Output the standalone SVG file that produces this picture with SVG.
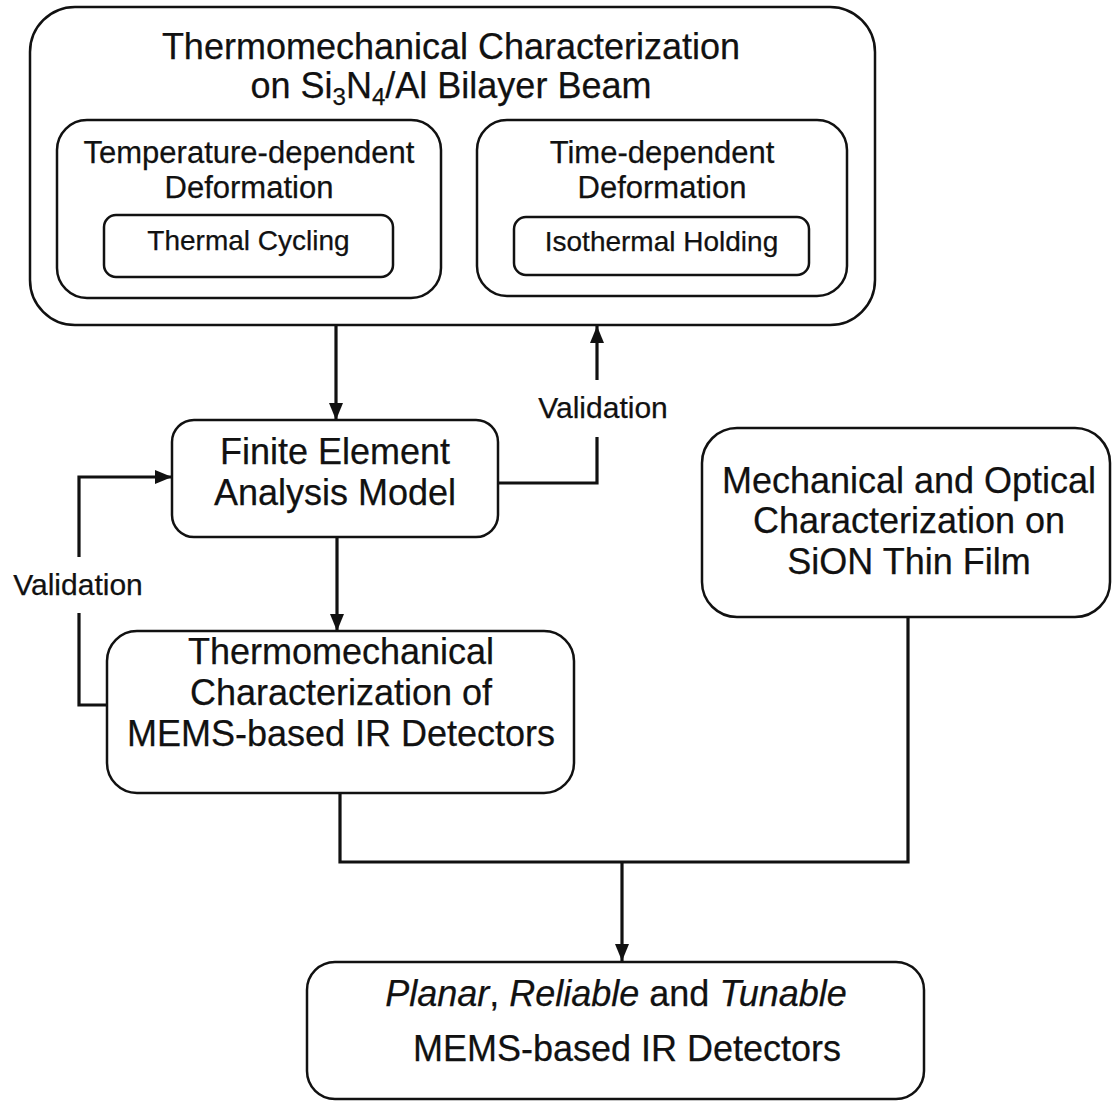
<svg xmlns="http://www.w3.org/2000/svg" width="1113" height="1101" viewBox="0 0 1113 1101">
  <style>
    .box { fill: none; stroke: #111; stroke-width: 2.5; }
    .wire { fill: none; stroke: #111; stroke-width: 3.2; }
    text { font-family: "Liberation Sans", Arial, sans-serif; fill: #111; text-anchor: middle; stroke: #111; stroke-width: 0.25; }
    .big { font-size: 36px; }
    .mid { font-size: 31px; }
    .small { font-size: 28px; }
    .label { font-size: 30px; }
    .it { font-style: italic; }
  </style>
  <defs>
    <marker id="arrow" viewBox="0 0 17 14" refX="17" refY="7" markerWidth="17" markerHeight="14" markerUnits="userSpaceOnUse" orient="auto">
      <path d="M0,0 L17,7 L0,14 Z" fill="#111"/>
    </marker>
  </defs>
  <rect width="1113" height="1101" fill="#fff"/>

  <!-- bilayer beam characterization (container) -->
  <g id="bilayer-beam">
    <rect class="box" x="30" y="7" width="845" height="318" rx="45" ry="45"/>
    <text class="big" x="451" y="59">Thermomechanical Characterization</text>
    <text class="big" x="451" y="98">on Si<tspan font-size="24" dy="7">3</tspan><tspan dy="-7">N</tspan><tspan font-size="24" dy="7">4</tspan><tspan dy="-7">/Al Bilayer Beam</tspan></text>
  </g>

  <g id="temperature-dependent">
    <rect class="box" x="57" y="120" width="384" height="178" rx="30" ry="30"/>
    <text class="mid" x="249" y="163">Temperature-dependent</text>
    <text class="mid" x="249" y="198">Deformation</text>
  </g>

  <g id="thermal-cycling">
    <rect class="box" x="104" y="215" width="289" height="62" rx="12" ry="12"/>
    <text class="small" x="248.5" y="250">Thermal Cycling</text>
  </g>

  <g id="time-dependent">
    <rect class="box" x="477" y="120" width="370" height="176" rx="30" ry="30"/>
    <text class="mid" x="662" y="163">Time-dependent</text>
    <text class="mid" x="662" y="198">Deformation</text>
  </g>

  <g id="isothermal-holding">
    <rect class="box" x="514" y="217" width="295" height="58" rx="12" ry="12"/>
    <text class="small" x="661.5" y="251">Isothermal Holding</text>
  </g>

  <g id="fea-model">
    <rect class="box" x="172" y="420" width="326" height="117" rx="22" ry="22"/>
    <text class="big" x="335" y="464">Finite Element</text>
    <text class="big" x="335" y="505">Analysis Model</text>
  </g>

  <g id="sion-film">
    <rect class="box" x="702" y="428" width="408" height="189" rx="35" ry="35"/>
    <text class="big" x="909" y="493">Mechanical and Optical</text>
    <text class="big" x="909" y="533">Characterization on</text>
    <text class="big" x="909" y="574">SiON Thin Film</text>
  </g>

  <g id="detector-characterization">
    <rect class="box" x="107" y="631" width="467" height="162" rx="30" ry="30"/>
    <text class="big" x="341" y="664">Thermomechanical</text>
    <text class="big" x="341" y="705">Characterization of</text>
    <text class="big" x="341" y="746">MEMS-based IR Detectors</text>
  </g>

  <g id="ir-detectors">
    <rect class="box" x="307" y="962" width="617" height="137" rx="28" ry="28"/>
    <text class="big" x="616" y="1006"><tspan class="it">Planar</tspan>, <tspan class="it">Reliable</tspan> and <tspan class="it">Tunable</tspan></text>
    <text class="big" x="627" y="1061" font-size="34.5">MEMS-based IR Detectors</text>
  </g>

  <!-- connectors -->
  <g id="connectors">
    <path class="wire" d="M336,325 L336,420" marker-end="url(#arrow)"/>
    <path class="wire" d="M337,537 L337,631" marker-end="url(#arrow)"/>
    <path class="wire" d="M498,483 L597,483 L597,437"/>
    <path class="wire" d="M597,380 L597,326" marker-end="url(#arrow)"/>
    <path class="wire" d="M107,705 L79,705 L79,613"/>
    <path class="wire" d="M79,557 L79,477 L172,477" marker-end="url(#arrow)"/>
    <path class="wire" d="M340,793 L340,862 L908,862 L908,617"/>
    <path class="wire" d="M622,862 L622,961" marker-end="url(#arrow)"/>
    <text class="label" x="603" y="418">Validation</text>
    <text class="label" x="78" y="595">Validation</text>
  </g>
</svg>
